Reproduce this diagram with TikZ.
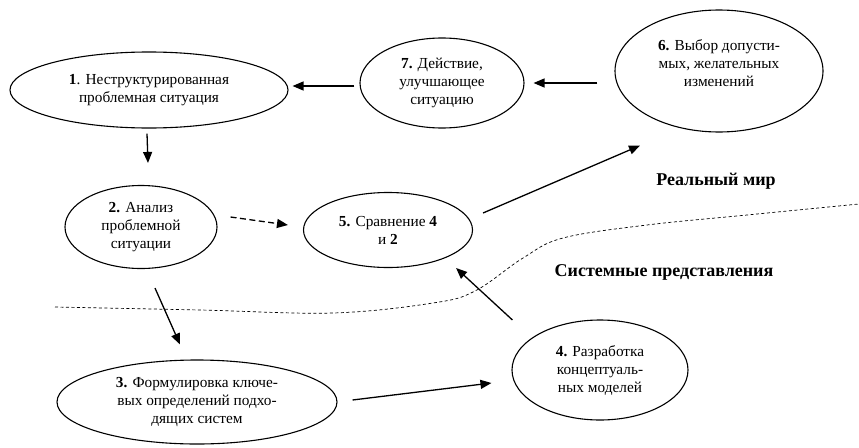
\documentclass[tikz,border=0pt]{standalone}
\usepackage{fontspec}
\setmainfont{Liberation Serif}
\usetikzlibrary{shapes,arrows.meta,positioning}

\begin{document}
\begin{tikzpicture}[x=1pt, y=-1pt,
    stage/.style={draw, ellipse, line width=1.1pt, align=center, inner sep=0pt,
                  font=\fontsize{15.3}{18}\selectfont},
    caption/.style={align=center, font=\fontsize{15.3}{18}\selectfont},
    flow/.style={-{Triangle[length=11pt,width=9pt]}, line width=1.3pt},
    border/.style={dash pattern=on 3pt off 2.5pt, line width=0.7pt},
    world/.style={font=\fontsize{18}{20}\selectfont\bfseries}]
    \useasboundingbox (0,0) rectangle (859,447);

    \node[stage, minimum width=278pt, minimum height=76pt] (e1) at (149,90)
        {\textbf{1}. Неструктурированная\\проблемная ситуация};
    \node[stage, minimum width=164pt, minimum height=90pt] (e7) at (442,83)
        {\textbf{7.} Действие,\\улучшающее\\ситуацию};
    \node[stage, minimum width=208pt, minimum height=122pt] (e6) at (719,71) {};
    \node[caption] (t6) at (719,63)
        {\textbf{6.} Выбор допусти-\\мых, желательных\\изменений};
    \node[stage, minimum width=152pt, minimum height=83pt] (e2) at (141,227)
        {\textbf{2.} Анализ\\проблемной\\ситуации};
    \node[stage, minimum width=169pt, minimum height=75pt] (e5) at (388,230)
        {\textbf{5.} Сравнение \textbf{4}\\и \textbf{2}};
    \node[stage, minimum width=280pt, minimum height=84pt] (e3) at (197,402)
        {\textbf{3.} Формулировка ключе-\\вых определений подхо-\\дящих систем};
    \node[stage, minimum width=176pt, minimum height=100pt] (e4) at (600,370)
        {\textbf{4.} Разработка\\концептуаль-\\ных моделей};

    \node[world] (real) at (716,181) {Реальный мир};
    \node[world] (sys) at (664,272) {Системные представления};

    % boundary between the two worlds
    \draw[border] plot[smooth, tension=0.6] coordinates
        {(55,307) (200,310) (333,313) (433,303) (475,291) (523,258)
         (563,238) (647,225) (747,215) (859,204)};

    \draw[flow] ([xshift=-5pt,yshift=-3pt]e7.west) -- ([xshift=4pt,yshift=4pt]e1.east);
    \draw[flow] ([xshift=-17pt,yshift=-12pt]e6.west) -- ([xshift=9pt]e7.east);
    \draw[flow] ([xshift=-2pt,yshift=-5pt]e1.south) -- ([xshift=7pt,yshift=22pt]e2.north);
    \draw[flow, dash pattern=on 6pt off 3.5pt] ([xshift=13pt,yshift=10pt]e2.east) -- ([xshift=-15pt,yshift=5pt]e5.west);
    \draw[flow] ([xshift=14pt,yshift=-19pt]e2.south) -- ([xshift=-17pt,yshift=15pt]e3.north);
    \draw[flow] ([xshift=15pt,yshift=2pt]e3.east) -- ([xshift=-20pt,yshift=-13pt]e4.west);
    \draw[flow] ([xshift=1pt,yshift=50pt]e4.west) -- ([xshift=-17pt,yshift=-38pt]e5.east);
    \draw[flow] ([xshift=10pt,yshift=17pt]e5.east) -- ([xshift=-79pt,yshift=-13pt]e6.south);
\end{tikzpicture}
\end{document}
